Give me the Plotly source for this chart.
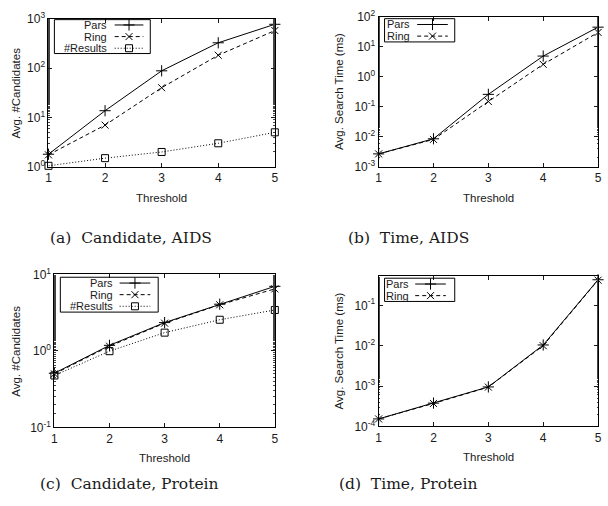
import plotly.graph_objects as go

# thresholds on the x axis
thresholds = [1, 2, 3, 4, 5]

# (a) candidates, AIDS
aids_pars_cand = [1.8, 13.7, 88, 325, 770]
aids_ring_cand = [1.75, 7.0, 40, 182, 575]
aids_results = [1.05, 1.5, 2.0, 3.0, 5.0]
# (b) search time (ms), AIDS
aids_pars_time = [0.0027, 0.0086, 0.26, 4.9, 45]
aids_ring_time = [0.0027, 0.0082, 0.15, 2.6, 30]
# (c) candidates, Protein
protein_pars_cand = [0.51, 1.18, 2.34, 4.07, 6.97]
protein_ring_cand = [0.50, 1.15, 2.30, 4.00, 6.45]
protein_results = [0.476, 0.99, 1.73, 2.55, 3.42]
# (d) search time (ms), Protein
protein_pars_time = [1.53e-4, 3.77e-4, 9.5e-4, 1.04e-2, 0.43]
protein_ring_time = [1.53e-4, 3.70e-4, 9.4e-4, 1.00e-2, 0.42]

W, H = 608, 506


def px(x):
    return x / W


def py(y):
    return 1 - y / H


# series styles (gnuplot-like black lines)
styles = {
    "Pars": dict(dash="solid", symbol="cross-thin", size=8),
    "Ring": dict(dash="4px,3px", symbol="x-thin", size=7),
    "#Results": dict(dash="1px,2px", symbol="square-open", size=7),
}

# per-panel layout: plot box in pixels, log range, titles, legend key position
panels = [
    dict(box=(46, 10, 275, 163), yr=(0, 3), pw=(0, 1, 2, 3), minor=2,
         ytitle="Avg. #Candidates", ytx=13, caption="(a)\u00a0\u00a0Candidate, AIDS", cap=(129, 236),
         series=[("Pars", aids_pars_cand), ("Ring", aids_ring_cand), ("#Results", aids_results)],
         key=dict(box=(52, 11, 149, 46), tr=107, line=(113, 142), rows=(16.5, 28.5, 40.5))),
    dict(box=(380, 8, 602, 163), yr=(-3, 2), pw=(-3, -2, -1, 0, 1, 2), minor=1,
         ytitle="Avg. Search Time (ms)", ytx=340, caption="(b)\u00a0\u00a0Time, AIDS", cap=(410, 236),
         series=[("Pars", aids_pars_time), ("Ring", aids_ring_time)],
         key=dict(box=(386, 10, 457, 34), tr=414, line=(419, 450), rows=(16, 28))),
    dict(box=(52, 274, 275, 432), yr=(-1, 1), pw=(-1, 0, 1), minor=2,
         ytitle="Avg. #Candidates", ytx=13, caption="(c)\u00a0\u00a0Candidate, Protein", cap=(128, 490),
         series=[("Pars", protein_pars_cand), ("Ring", protein_ring_cand), ("#Results", protein_results)],
         key=dict(box=(58, 277, 157, 313), tr=113, line=(118, 149), rows=(283, 295, 307))),
    dict(box=(380, 276, 602, 431), yr=(-4, -0.28), pw=(-4, -3, -2, -1), minor=1,
         ytitle="Avg. Search Time (ms)", ytx=340, caption="(d)\u00a0\u00a0Time, Protein", cap=(410, 490),
         series=[("Pars", protein_pars_time), ("Ring", protein_ring_time)],
         key=dict(box=(386, 278, 457, 302), tr=413, line=(417, 448), rows=(284, 296))),
]

sans = "Liberation Sans, Arial, sans-serif"
serif = "DejaVu Serif, serif"
ink = "#1a1a1a"
fs = 11.5


def label(text, x, y, size=fs, family=sans, xanchor="center", angle=0):
    return dict(text=text, xref="paper", yref="paper", x=px(x), y=py(y),
                xanchor=xanchor, yanchor="middle", textangle=angle, showarrow=False,
                font=dict(family=family, size=size, color=ink))


fig = go.Figure()
layout = {}
annotations = []
shapes = []

for i, p in enumerate(panels, start=1):
    x0, y0, x1, y1 = p["box"]
    xa, ya = f"xaxis{i}", f"yaxis{i}"
    xr, yr = f"x{i}", f"y{i}"
    layout[xa] = dict(
        domain=[px(x0), px(x1)], anchor=yr, range=[1, 5],
        tickvals=thresholds, ticks="inside", ticklen=4, tickcolor=ink,
        showline=True, linecolor="black", linewidth=1, mirror="ticks",
        showgrid=False, zeroline=False,
        tickfont=dict(family=sans, size=12, color=ink),
    )
    layout[ya] = dict(
        domain=[py(y1), py(y0)], anchor=xr, type="log", range=list(p["yr"]),
        tickvals=[10 ** e for e in p["pw"]],
        ticktext=[f"10<sup>{e}</sup>" for e in p["pw"]],
        ticks="inside", ticklen=4, tickcolor=ink,
        minor=dict(ticks="inside", ticklen=p["minor"], tickcolor="#444", showgrid=False),
        showline=True, linecolor="black", linewidth=1, mirror="ticks",
        showgrid=False, zeroline=False,
        tickfont=dict(family=sans, size=12, color=ink),
    )
    for name, vals in p["series"]:
        s = styles[name]
        fig.add_trace(go.Scatter(
            x=thresholds, y=vals, xaxis=xr, yaxis=yr, mode="lines+markers",
            name=name, showlegend=False, cliponaxis=False,
            line=dict(color="black", width=1, dash=s["dash"]),
            marker=dict(symbol=s["symbol"], size=s["size"], color="black",
                        line=dict(color="black", width=1)),
        ))

    # axis titles and caption
    annotations.append(label(p["ytitle"], p["ytx"], (y0 + y1) / 2, angle=-90))
    annotations.append(label("Threshold", (x0 + x1) / 2, y1 + 32))
    annotations.append(label(p["caption"], p["cap"][0], p["cap"][1], size=15.5, family=serif))

    # gnuplot style key: label right-aligned, sample to its right
    k = p["key"]
    bx0, by0, bx1, by1 = k["box"]
    shapes.append(dict(type="rect", xref="paper", yref="paper",
                       x0=px(bx0), x1=px(bx1), y0=py(by1), y1=py(by0),
                       line=dict(color="black", width=1)))
    for (name, _), ry in zip(p["series"], k["rows"]):
        s = styles[name]
        annotations.append(label(name, k["tr"], ry, size=11, xanchor="right"))
        lx0, lx1 = k["line"]
        fig.add_trace(go.Scatter(
            x=[lx0, lx1], y=[ry, ry], xaxis="x5", yaxis="y5", mode="lines",
            showlegend=False, hoverinfo="skip", cliponaxis=False,
            line=dict(color="black", width=1, dash=s["dash"]),
        ))
        fig.add_trace(go.Scatter(
            x=[(lx0 + lx1) / 2], y=[ry], xaxis="x5", yaxis="y5", mode="markers",
            showlegend=False, hoverinfo="skip", cliponaxis=False,
            marker=dict(symbol=s["symbol"], size=s["size"], color="black",
                        line=dict(color="black", width=1)),
        ))

# full-figure overlay axes in pixel units for the key samples
layout["xaxis5"] = dict(domain=[0, 1], range=[0, W], visible=False, anchor="y5")
layout["yaxis5"] = dict(domain=[0, 1], range=[H, 0], visible=False, anchor="x5")

fig.update_layout(
    width=W, height=H, margin=dict(l=0, r=0, t=0, b=0),
    paper_bgcolor="white", plot_bgcolor="rgba(0,0,0,0)",
    showlegend=False, annotations=annotations, shapes=shapes,
    **layout,
)

# drop the default page margin so the figure sits at the window corner
fig.write_html("out.html", config={"displayModeBar": False},
               post_script="document.body.style.margin='0';")
